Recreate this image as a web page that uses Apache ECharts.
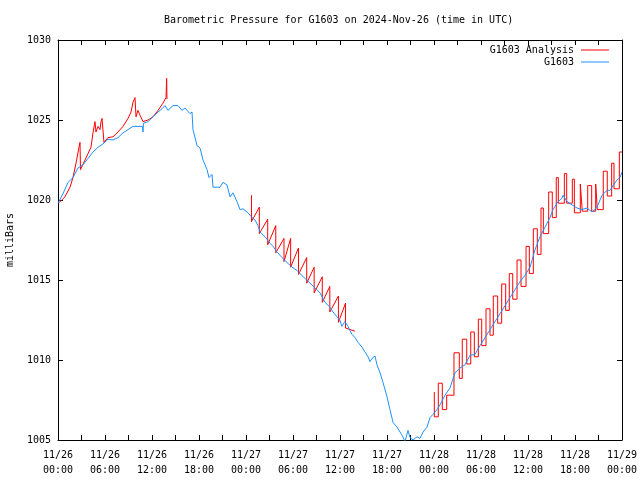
<!DOCTYPE html>
<html>
<head>
<meta charset="utf-8">
<script src="https://cdn.jsdelivr.net/npm/echarts@6/dist/echarts.min.js"></script>
<style>html,body{margin:0;padding:0;background:#fff}#c{width:640px;height:480px}</style>
</head>
<body>
<div id="c"></div>
<script>
// Hours since 2024-11-26 00:00 UTC
const tickLabels = ['11/26\n00:00','11/26\n06:00','11/26\n12:00','11/26\n18:00','11/27\n00:00','11/27\n06:00','11/27\n12:00','11/27\n18:00','11/28\n00:00','11/28\n06:00','11/28\n12:00','11/28\n18:00','11/29\n00:00'];

// G1603 observed
const blueT = [0,0.64,1.28,1.91,2.55,3.19,3.83,4.47,5.11,5.74,6.38,7.02,7.66,8.30,8.94,9.57,10.21,10.79,10.85,10.91,11.49,12.13,12.77,13.28,13.66,14.04,14.68,15.32,15.83,16.21,16.85,17.11,17.23,17.75,18.13,18.51,19.02,19.28,19.66,19.79,20.68,21.06,21.57,21.96,22.34,22.85,23.23,23.62,23.87,24.26,24.77,25.15,25.53,25.79,26.43,27.06,27.45,27.96,28.60,29.23,29.87,30.51,30.89,31.53,32.17,32.81,33.45,34.09,34.72,35.11,35.62,35.98,36.24,36.62,37.02,37.53,37.92,38.30,38.81,39.19,39.58,39.83,40.09,40.47,40.72,41.11,41.49,42.00,42.38,42.77,43.28,43.53,43.92,44.30,44.68,44.94,45.32,45.83,46.21,46.60,47.11,47.49,47.87,48.38,48.77,49.40,50.04,50.68,51.32,51.96,52.60,53.23,53.87,54.51,55.15,55.79,56.43,57.07,57.70,58.34,58.98,59.62,60.26,60.90,61.53,62.17,62.81,63.19,63.83,64.34,64.47,64.98,65.62,66.26,66.89,67.53,68.17,68.55,68.94,69.45,70.09,70.47,70.85,71.36,71.74,72.00];
const blueV = [1019.8,1020.4,1021.1,1021.4,1022.0,1022.2,1022.6,1023.0,1023.3,1023.5,1023.8,1023.75,1023.9,1024.2,1024.4,1024.6,1024.6,1024.6,1024.25,1024.8,1024.9,1025.2,1025.5,1025.7,1025.9,1025.6,1025.9,1025.9,1025.6,1025.75,1025.4,1025.5,1024.4,1023.4,1023.25,1022.5,1021.9,1021.4,1021.6,1020.8,1020.8,1021.1,1020.95,1020.2,1020.45,1019.9,1019.4,1019.45,1019.45,1019.2,1018.9,1018.75,1018.4,1018.0,1017.7,1017.3,1017.1,1016.75,1016.4,1016.1,1015.8,1015.6,1015.4,1015.1,1014.8,1014.5,1014.2,1013.6,1013.3,1013.0,1012.7,1012.5,1012.1,1012.4,1012.1,1011.6,1011.4,1011.1,1010.8,1010.5,1010.2,1009.9,1010.1,1010.25,1009.7,1009.2,1008.6,1007.7,1006.9,1006.1,1005.8,1005.75,1005.3,1004.9,1005.6,1005.15,1005.0,1005.2,1005.1,1005.5,1005.8,1006.4,1006.6,1006.9,1007.2,1007.8,1008.25,1009.2,1009.5,1009.7,1010.3,1010.35,1010.9,1011.4,1011.9,1012.4,1012.9,1013.4,1013.9,1014.4,1014.9,1015.3,1015.8,1016.9,1017.7,1018.3,1018.9,1019.4,1019.9,1020.1,1020.3,1019.9,1019.7,1019.5,1019.4,1019.5,1019.25,1019.4,1019.7,1020.3,1020.6,1020.6,1020.9,1021.25,1021.4,1021.75];

// G1603 Analysis, part 1
const red1T = [0,0.38,0.89,1.53,1.91,2.30,2.68,2.81,2.87,2.94,3.45,3.83,4.21,4.47,4.72,4.85,5.11,5.36,5.49,5.62,5.87,6.38,7.02,7.66,8.30,8.94,9.32,9.57,9.83,9.96,10.21,10.47,10.85,11.49,12.13,12.77,13.40,13.79,13.87,13.91];
const red1V = [1019.8,1019.95,1020.2,1020.8,1021.4,1022.3,1023.3,1023.6,1021.9,1022.0,1022.5,1022.9,1023.3,1024.2,1024.9,1024.25,1024.6,1024.4,1024.9,1025.1,1023.6,1023.9,1023.95,1024.25,1024.6,1025.1,1025.5,1026.1,1026.4,1025.2,1025.6,1025.3,1024.9,1025.0,1025.2,1025.6,1026.05,1026.4,1027.6,1026.3];

// G1603 Analysis, part 2
const red2T = [24.7,24.7,25.7,25.7,26.77,26.77,27.8,27.8,28.85,28.85,29.7,29.7,30.7,30.7,31.75,31.75,32.7,32.7,33.74,33.74,34.7,34.7,35.8,35.8,36.7,36.7,37.9];
const red2V = [1020.3,1018.65,1019.55,1017.9,1018.8,1017.2,1018.4,1016.7,1017.6,1016.15,1017.6,1015.8,1017.0,1015.35,1016.4,1014.8,1015.8,1014.2,1015.2,1013.6,1014.6,1013.0,1014.0,1012.35,1013.55,1012.0,1011.8];

// G1603 Analysis, part 3 (held values)
const red3T = [48.04,48.04,48.55,49.06,49.62,50.55,51.23,51.61,52.18,52.69,53.15,53.66,54.09,54.64,55.15,55.57,56.13,56.64,57.15,57.61,58.05,58.60,59.11,59.75,60.17,60.68,61.19,61.66,61.96,62.64,63.10,63.61,63.87,64.64,64.94,65.66,65.92,66.68,66.93,67.62,68.13,68.64,68.85,69.61,70.12,70.68,70.98,71.66,72.00];
const red3V = [1008.0,1006.45,1008.55,1006.9,1007.8,1010.45,1008.85,1011.3,1009.75,1011.75,1010.2,1012.55,1010.9,1013.2,1011.55,1014.0,1012.3,1014.75,1013.1,1015.4,1013.8,1016.25,1014.6,1017.1,1015.4,1018.2,1016.6,1019.5,1017.9,1020.5,1018.9,1021.4,1019.8,1021.65,1019.8,1021.3,1019.2,1021.0,1019.3,1020.9,1019.3,1021.0,1019.4,1021.8,1020.25,1022.3,1020.7,1023.0,1023.0];

const zip = (t, v) => t.map((x, i) => [x, v[i]]);
const FONT = 'DejaVu Sans Mono';
const RED = '#ff0000', BLUE = '#1e90ff';

const baseX = {
  type: 'value', min: 0, max: 72, interval: 3,
  axisLine: { show: true, onZero: false, lineStyle: { color: '#000', width: 1 } },
  axisTick: { show: true, inside: true, length: 5, lineStyle: { color: '#000' } },
  splitLine: { show: false }
};
const baseY = {
  type: 'value', min: 1005, max: 1030, interval: 5,
  axisLine: { show: true, onZero: false, lineStyle: { color: '#000', width: 1 } },
  axisTick: { show: true, inside: true, length: 5, lineStyle: { color: '#000' } },
  splitLine: { show: false }
};

const chart = echarts.init(document.getElementById('c'), null, { renderer: 'canvas' });
const redSeries = (data, step) => ({
  name: 'G1603 Analysis', type: 'line', data: data, step: step || false,
  symbol: 'none', showSymbol: false, color: RED,
  lineStyle: { color: RED, width: 1 }, xAxisIndex: 0, yAxisIndex: 0
});
chart.setOption({
  animation: false,
  backgroundColor: '#fff',
  title: {
    text: 'Barometric Pressure for G1603 on 2024-Nov-26 (time in UTC)',
    left: 159, top: 10,
    textStyle: { fontFamily: FONT, fontSize: 10, fontWeight: 'normal', color: '#000' }
  },
  legend: {
    data: [{ name: 'G1603 Analysis', icon: 'rect' }, { name: 'G1603', icon: 'rect' }],
    orient: 'vertical', align: 'right',
    right: 26, top: 40,
    itemWidth: 28, itemHeight: 1, itemGap: 2,
    textStyle: { fontFamily: FONT, fontSize: 10, color: '#000', padding: [0, 2, 0, 0] },
    selectedMode: false
  },
  grid: { left: 58, right: 18, top: 40, bottom: 40, containLabel: false, outerBoundsMode: 'none' },
  xAxis: [
    Object.assign({}, baseX, {
      position: 'bottom',
      axisLabel: {
        show: true, margin: 8, fontFamily: FONT, fontSize: 10, color: '#000', lineHeight: 15,
        formatter: v => (v % 6 === 0 ? tickLabels[v / 6] : '')
      }
    }),
    Object.assign({}, baseX, { position: 'top', axisLabel: { show: false } })
  ],
  yAxis: [
    Object.assign({}, baseY, {
      position: 'left',
      name: 'milliBars', nameLocation: 'middle', nameGap: 43, nameRotate: 90,
      nameTextStyle: { fontFamily: FONT, fontSize: 10, color: '#000' },
      axisLabel: { show: true, margin: 7, fontFamily: FONT, fontSize: 10, color: '#000',
        formatter: v => String(v) }
    }),
    Object.assign({}, baseY, { position: 'right', axisLabel: { show: false } })
  ],
  series: [
    redSeries(zip(red1T, red1V)),
    redSeries(zip(red2T, red2V)),
    redSeries(zip(red3T, red3V), 'end'),
    {
      name: 'G1603', type: 'line', data: zip(blueT, blueV),
      symbol: 'none', showSymbol: false, color: BLUE,
      lineStyle: { color: BLUE, width: 1 }, xAxisIndex: 0, yAxisIndex: 0
    }
  ]
});
</script>
</body>
</html>
